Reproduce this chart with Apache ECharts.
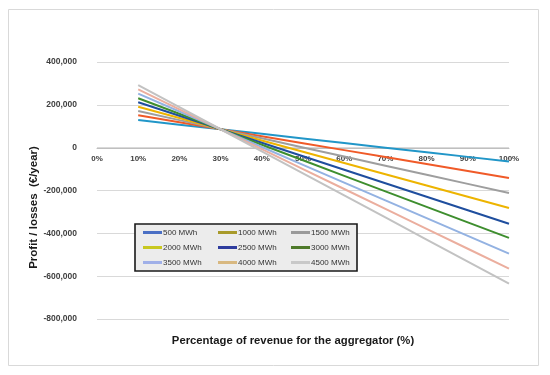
<!DOCTYPE html>
<html>
<head>
<meta charset="utf-8">
<script src="https://cdn.jsdelivr.net/npm/echarts@6/dist/echarts.min.js"></script>
<style>html,body{margin:0;padding:0;background:#fff}#c{width:550px;height:375px}</style>
</head>
<body>
<div id="c"></div>
<script>
// Share of revenue for the aggregator (x values)
const shares = [0.1, 0.2, 0.3, 0.4, 0.5, 0.6, 0.7, 0.8, 0.9, 1.0];
const seriesNames = ['500 MWh','1000 MWh','1500 MWh','2000 MWh','2500 MWh','3000 MWh','3500 MWh','4000 MWh','4500 MWh'];
const v500  = [129000, 107500, 86000, 64500, 43000, 21500, 0, -21500, -43000, -64500];
const v1000 = [151000, 118500, 86000, 53500, 21000, -11500, -44000, -76500, -109000, -141500];
const v1500 = [171000, 128500, 86000, 43500, 1000, -41500, -84000, -126500, -169000, -211500];
const v2000 = [191000, 138500, 86000, 33500, -19000, -71500, -124000, -176500, -229000, -281500];
const v2500 = [212000, 149000, 86000, 23000, -40000, -103000, -166000, -229000, -292000, -355000];
const v3000 = [231000, 158500, 86000, 13500, -59000, -131500, -204000, -276500, -349000, -421500];
const v3500 = [252000, 169000, 86000, 3000, -80000, -163000, -246000, -329000, -412000, -495000];
const v4000 = [272000, 179000, 86000, -7000, -100000, -193000, -286000, -379000, -472000, -565000];
const v4500 = [292000, 189000, 86000, -17000, -120000, -223000, -326000, -429000, -532000, -635000];
const allValues = [v500, v1000, v1500, v2000, v2500, v3000, v3500, v4000, v4500];

const lineColors = ['#2196C8','#F05A28','#9E9E9E','#EDB400','#1F4E9E','#3E8E2E','#93B2E2','#EBAE9E','#C2C2C2'];
const legendColors = ['#4A6FC4','#A89A2A','#9A9A9A','#C8C820','#2E3C9E','#4E7A2A','#A0B0E8','#D8B880','#C8C8C8'];

const FONT = 'Liberation Sans';
const series = seriesNames.map((n, i) => ({
  name: n, type: 'line', showSymbol: false, symbol: 'none',
  data: shares.map((s, j) => [s, allValues[i][j]]),
  lineStyle: { width: 2, color: lineColors[i] },
  itemStyle: { color: lineColors[i] },
  emphasis: { disabled: true }, animation: false
}));

function legendCol(idxs, left) {
  return {
    orient: 'vertical', left: left, top: 227, itemGap: 4, padding: 0,
    itemWidth: 19, itemHeight: 3, icon: 'rect', selectedMode: false,
    textStyle: { fontFamily: FONT, fontSize: 8, color: '#333', lineHeight: 11, padding: [0,0,0,-4] },
    data: idxs.map(i => ({ name: seriesNames[i], itemStyle: { color: legendColors[i] } })),
    z: 10
  };
}

const chart = echarts.init(document.getElementById('c'), null, { renderer: 'canvas' });
chart.setOption({
  animation: false,
  backgroundColor: '#fff',
  grid: { left: 97, right: 41, top: 62, bottom: 56 },
  graphic: [
    { type: 'rect', shape: { x: 8.5, y: 9.5, width: 530, height: 356 }, style: { fill: null, stroke: '#d9d9d9', lineWidth: 1 }, z: 0, silent: true },
    { type: 'rect', shape: { x: 135, y: 224, width: 222, height: 47 }, style: { fill: '#ececec', stroke: '#1a1a1a', lineWidth: 1.6 }, z: 5, silent: true }
  ],
  legend: [legendCol([0,3,6], 143), legendCol([1,4,7], 218), legendCol([2,5,8], 291)],
  xAxis: {
    type: 'value', min: 0, max: 1, interval: 0.1,
    position: 'bottom', offset: -171,
    name: 'Percentage of revenue for the aggregator (%)',
    nameLocation: 'middle', nameGap: 187, nameMoveOverlap: false,
    nameTextStyle: { fontFamily: FONT, fontSize: 11.3, fontWeight: 'bold', color: '#1a1a1a', padding: [0, 20, 0, 0] },
    axisLine: { onZero: false, show: true, lineStyle: { color: '#bfbfbf', width: 1 } },
    axisTick: { show: false },
    splitLine: { show: false },
    axisLabel: { margin: 7, fontFamily: FONT, fontSize: 8, fontWeight: 'bold', color: '#404040',
      formatter: v => Math.round(v * 100) + '%' }
  },
  yAxis: {
    type: 'value', min: -800000, max: 400000, interval: 200000,
    name: 'Profit / losses  (€/year)', nameLocation: 'middle', nameGap: 57, nameMoveOverlap: false,
    nameTextStyle: { fontFamily: FONT, fontSize: 11.5, fontWeight: 'bold', color: '#1a1a1a', padding: [0, 34, 0, 0] },
    axisLine: { show: false }, axisTick: { show: false },
    splitLine: { lineStyle: { color: '#d9d9d9', width: 1 } },
    axisLabel: { margin: 20, fontFamily: FONT, fontSize: 8.5, fontWeight: 'bold', color: '#404040' }
  },
  series: series
});
</script>
</body>
</html>
